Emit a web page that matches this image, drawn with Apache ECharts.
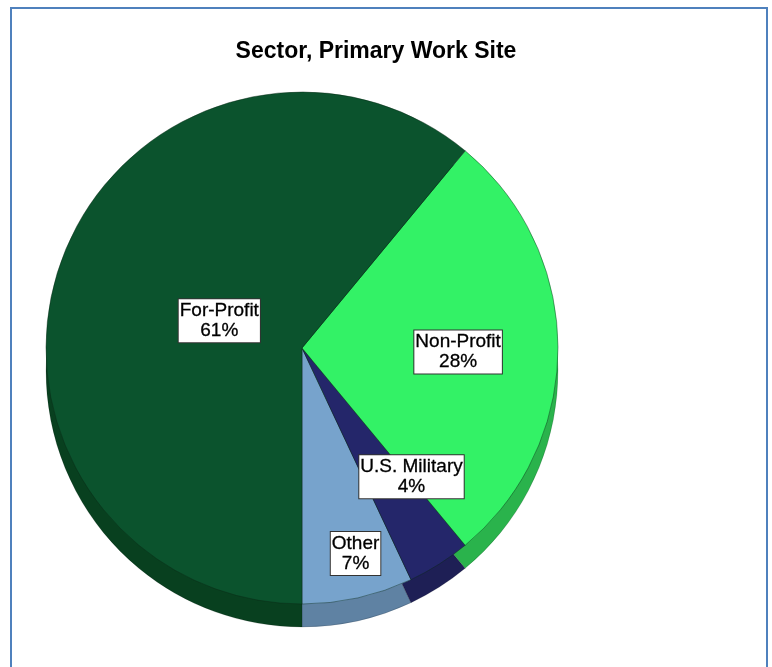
<!DOCTYPE html>
<html><head><meta charset="utf-8">
<script src="https://cdn.jsdelivr.net/npm/echarts@6/dist/echarts.min.js"></script>
<style>html,body{margin:0;padding:0;background:#fff}#c{width:772px;height:667px}</style>
</head><body><div id="c"></div>
<script>
const categories = ['Other', 'U.S. Military', 'Non-Profit', 'For-Profit'];
const percentValues = [7, 4, 28, 61];

const topColors = ['#77a3cc', '#24266a', '#33f266', '#0b532d'];
const sideColors = ['#5f82a3', '#1e1f55', '#2ab34c', '#08401f'];
const labelRadius = [0.83, 0.66, 0.61, 0.34];
const labelAngleShift = [2, 8, -1.5, 1.6];

const CX = 302, CY = 348, R = 256, DEPTH = 23;

const chart = echarts.init(document.getElementById('c'), null, {renderer: 'canvas'});
const mk = (colors) => categories.map((c, i) => ({name: c, value: percentValues[i], itemStyle: {color: colors[i]}}));

chart.setOption({
  animation: false,
  title: {
    text: 'Sector, Primary Work Site', left: 371, top: 35, textAlign: 'center',
    textStyle: {fontFamily: 'Liberation Sans, Arial', fontWeight: 'bold', fontSize: 23, color: '#000'}
  },
  graphic: [{
    type: 'rect', shape: {x: 11, y: 8, width: 756, height: 700},
    style: {fill: 'none', stroke: '#4f81bd', lineWidth: 2}, silent: true, z: 100
  }],
  series: [
    {
      type: 'pie', center: [CX, CY + DEPTH], radius: [0, R],
      startAngle: -90, clockwise: false, silent: true,
      label: {show: false}, labelLine: {show: false},
      itemStyle: {borderColor: 'rgba(0,0,0,0.25)', borderWidth: 0.6},
      data: mk(sideColors), z: 1
    },
    {
      type: 'pie', center: [CX, CY], radius: [0, R],
      startAngle: -90, clockwise: false, silent: true,
      itemStyle: {borderColor: 'rgba(10,40,20,0.55)', borderWidth: 0.8},
      label: {
        show: true, position: 'inside',
        formatter: (p) => p.name + '\n' + p.value + '%',
        fontFamily: 'Liberation Sans, Arial', fontSize: 19, lineHeight: 20, color: '#000',
        textBorderColor: '#000', textBorderWidth: 0.3,
        backgroundColor: '#fff', borderColor: '#333', borderWidth: 1, padding: [2, 1, 1, 1]
      },
      labelLayout: function (p) {
        const lr = p.labelRect;
        const cx = lr.x + lr.width / 2, cy = lr.y + lr.height / 2;
        const ang = Math.atan2(-(cy - CY), cx - CX) + labelAngleShift[p.dataIndex] * Math.PI / 180;
        const r = labelRadius[p.dataIndex] * R;
        const nx = CX + r * Math.cos(ang), ny = CY - r * Math.sin(ang);
        return {dx: nx - cx, dy: ny - cy};
      },
      data: mk(topColors), z: 2
    }
  ]
});
</script></body></html>
